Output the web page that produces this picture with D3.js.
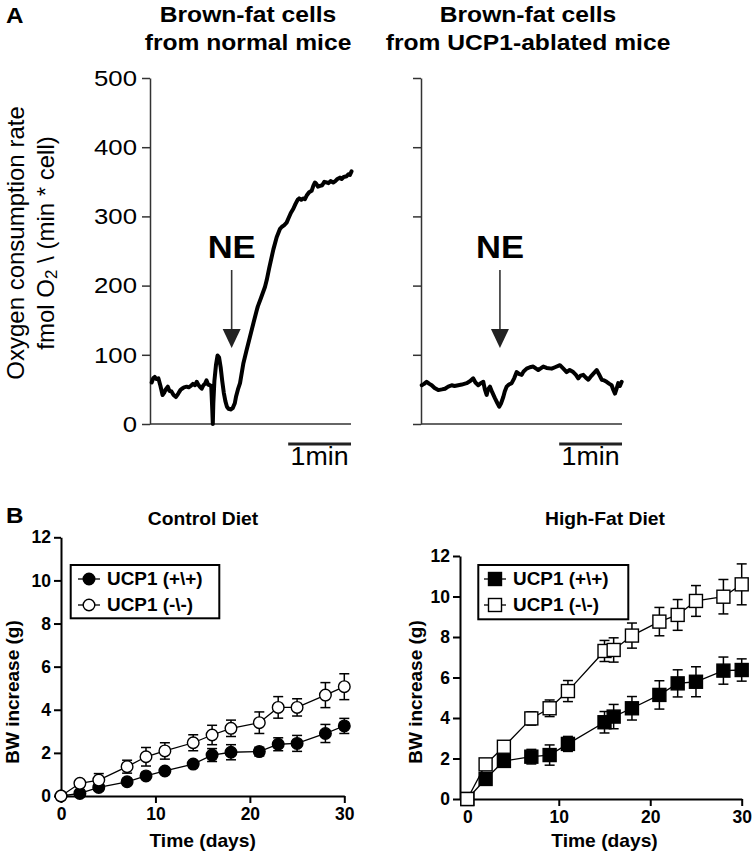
<!DOCTYPE html>
<html><head><meta charset="utf-8">
<script src="https://cdn.jsdelivr.net/npm/d3@7"></script>
<style>
html,body{margin:0;padding:0;background:#fff;}
svg{display:block;font-family:"Liberation Sans",Arial,sans-serif;}
</style></head>
<body>
<svg id="chart" width="756" height="855"></svg>
<script>
// ---------- Panel A data (time in seconds, rate in fmol O2/(min*cell)) ----------
const normalTime = [1.6,3,4.5,6,8,10,12,13.5,15,17,18.5,20.5,22.5,24.8,27,29,30.5,32.5,35,37,39,41,43,44.6,46,47.5,49.4,51,52.5,54,55.5,57.3,58.5,59.5,60,60.5,61.5,63,64.5,66,67.5,69,70.5,72,73.5,75,77,79,81,82.1,84,86,89.1,92,95.5,99,101.9,103,106,109.8,111.5,113.8,117.8,121,124.2,126,128,130.5,132.5,134.5,136.9,139,141,142.5,144.5,146.5,148,150,152,154.4,156,157.6,159,160.5,162.4,164.5,166.5,168.7,170.5,172.5,175,177,179,181.4,183,185,187.8,189.5,191,192.5];
const normalRate = [60,66,68,65,66,55,42,45,50,54,48,47,42,39,44,49,51,53,54,53,55,58,56,61,57,54,51,56,58,63,57,56,55,20,0,30,62,85,99,96,82,62,45,33,25,22,21,23,30,39,50,59,87,105,126,147,164,170,182,198,208,225,252,270,282,285,287,291,298,305,311,318,324,326,324,326,325,331,335,337,344,349,347,343,344,345,350,349,348,351,349,351,354,356,354,357,358,361,360,365];
const ablatedTime = [0.7,3,5.4,8,10.2,13,16.5,20,22.9,26,29.3,32,35.6,39,43.6,47,49.9,52,54.7,57,59.5,61,62.7,64,65.9,68,70.7,73,74.8,76.5,78.6,80,81.8,84,86.6,89,91.4,94,96.2,98,100.9,104,107.2,110,112,114,116.8,120,124.8,128,132.7,136,139.1,142,145.4,148,150.2,152.5,155,157.5,159.8,163,167.8,170,172.6,175,177.3,180,182.1,183.5,185.3,187,188.4,190,191.7];
const ablatedRate = [56,58,61,58,56,52,49,50,51,54,56,55,56,57,59,62,66,60,56,59,61,50,42,50,54,46,37,30,25,30,39,47,54,57,59,66,75,72,71,76,80,82,83,80,78,80,83,81,80,82,85,80,75,78,75,71,66,70,71,67,64,70,78,72,64,63,61,58,56,50,44,52,59,55,61];
const rateTicks = [0,100,200,300,400,500];
const neTimeNormal = 78;
const neTimeAblated = 75.4;

// ---------- Panel B data (days, BW increase in g) ----------
const controlDays = [0,2,4,7,9,11,14,16,18,21,23,25,28,30];
const controlWT    = [0,0.12,0.4,0.66,0.93,1.16,1.48,1.9,2.03,2.06,2.4,2.44,2.9,3.25];
const controlWTErr = [0,0.1,0.15,0.15,0.15,0.15,0.15,0.3,0.35,0.2,0.3,0.37,0.42,0.35];
const controlKO    = [0,0.59,0.74,1.36,1.82,2.09,2.47,2.83,3.14,3.4,4.11,4.11,4.68,5.07];
const controlKOErr = [0,0.15,0.3,0.3,0.43,0.38,0.37,0.45,0.38,0.5,0.5,0.4,0.58,0.6];
const hfDays = [0,2,4,7,9,11,15,16,18,21,23,25,28,30];
const hfWT    = [0,0.99,1.88,2.09,2.17,2.72,3.79,4.07,4.48,5.14,5.71,5.79,6.34,6.37];
const hfWTErr = [0,0.2,0.25,0.36,0.5,0.37,0.53,0.6,0.58,0.7,0.67,0.74,0.67,0.55];
const hfKO    = [0,1.71,2.58,3.98,4.48,5.33,7.31,7.36,8.07,8.76,9.09,9.78,9.99,10.6];
const hfKOErr = [0,0.2,0.25,0.33,0.41,0.52,0.52,0.6,0.62,0.7,0.76,0.76,0.85,1.01];
const bwTicks = [0,2,4,6,8,10,12];
const dayTicks = [0,10,20,30];
const legendLabels = ["UCP1 (+\\+)", "UCP1 (-\\-)"];

const svg = d3.select("#chart");
const FONT = '"Liberation Sans",Arial,sans-serif';

// horizontal widening of glyphs to match the reference's wide lettering
function widen(sel, k){
  sel.each(function(){
    const t = d3.select(this);
    const x = +t.attr("x") || 0, y = +t.attr("y") || 0;
    t.attr("x",0).attr("y",0).attr("transform",`translate(${x},${y}) scale(${k},1)`);
  });
  return sel;
}
function txt(g, x, y, s, size, weight, anchor, k){
  const t = g.append("text").attr("x",x).attr("y",y).text(s)
    .attr("font-size",size).attr("font-weight",weight||"normal")
    .attr("text-anchor",anchor||"middle").attr("fill","#000");
  if(k) widen(t,k);
  return t;
}

// ================= Panel A =================
txt(svg, 6, 23, "A", 22, "bold", "start", 1.1);

function tracePanel(x0, x1, times, rates, showLabels, neTime, titleLines, titleX){
  const x = d3.scaleLinear().domain([0,192]).range([x0,x1]);
  const y = d3.scaleLinear().domain([0,500]).range([424,78]);
  const g = svg.append("g");
  txt(g, titleX, 22, titleLines[0], 22, "bold", "middle", 1.12);
  txt(g, titleX, 50, titleLines[1], 22, "bold", "middle", 1.12);
  const ay = g.append("g").attr("transform",`translate(${x0},0)`)
    .call(d3.axisLeft(y).tickValues(rateTicks).tickSize(8).tickSizeOuter(0).tickPadding(5)
      .tickFormat(showLabels ? d3.format("d") : ""));
  ay.selectAll("path,line").attr("stroke","#333").attr("stroke-width",1.5);
  widen(ay.selectAll("text").attr("font-size",23).attr("font-family",FONT).attr("fill","#000"), 1.12);
  g.append("line").attr("x1",x0).attr("x2",x1).attr("y1",y(0)).attr("y2",y(0))
    .attr("stroke","#333").attr("stroke-width",1.5);
  const line = d3.line().x((d,i)=>x(times[i])).y(d=>y(d)).curve(d3.curveLinear);
  g.append("path").attr("d",line(rates)).attr("fill","none").attr("stroke","#000")
    .attr("stroke-width",4).attr("stroke-linejoin","round").attr("stroke-linecap","round");
  // NE arrow
  const ax = x(neTime);
  txt(g, ax, 258, "NE", 32, "bold", "middle", 1.08);
  g.append("line").attr("x1",ax).attr("x2",ax).attr("y1",270).attr("y2",332)
    .attr("stroke","#333").attr("stroke-width",1.6);
  g.append("path").attr("d",`M${ax-9},329 L${ax+9},329 L${ax},348 Z`).attr("fill","#222");
  // scale bar 1 min
  g.append("line").attr("x1",x(192-60)).attr("x2",x(192)).attr("y1",444).attr("y2",444)
    .attr("stroke","#222").attr("stroke-width",3);
  txt(g, (x(132)+x(192))/2, 465, "1min", 25, "normal", "middle", 1.07);
}
tracePanel(150, 351, normalTime, normalRate, true, neTimeNormal, ["Brown-fat cells","from normal mice"], 248);
tracePanel(421, 622, ablatedTime, ablatedRate, false, neTimeAblated, ["Brown-fat cells","from UCP1-ablated mice"], 528);

// y label panel A
const yl = svg.append("g").attr("transform","translate(24,243) rotate(-90)");
yl.append("text").attr("text-anchor","middle").attr("font-size",24).attr("fill","#000").text("Oxygen consumption rate");
const yl2 = svg.append("g").attr("transform","translate(54,243) rotate(-90)");
const t2 = yl2.append("text").attr("text-anchor","middle").attr("font-size",24).attr("fill","#000");
t2.append("tspan").text("fmol O");
t2.append("tspan").text("2").attr("font-size",17).attr("dy",3);
t2.append("tspan").text(" \\ (min * cell)").attr("dy",-3);

// ================= Panel B =================
txt(svg, 6, 523, "B", 22, "bold", "start", 1.1);

function growthPanel(opt){
  const g = svg.append("g");
  const x = d3.scaleLinear().domain(opt.xDomain).range(opt.xRange);
  const y = d3.scaleLinear().domain([0,12]).range([opt.y0, opt.y12]);
  txt(g, opt.titleX, 525, opt.title, 17.7, "bold", "middle", 1.09);
  const ax = g.append("g").attr("transform",`translate(0,${opt.y0})`)
    .call(d3.axisBottom(x).tickValues(dayTicks).tickSize(7).tickSizeOuter(0).tickPadding(5));
  const ay = g.append("g").attr("transform",`translate(${opt.xRange[0]},0)`)
    .call(d3.axisLeft(y).tickValues(bwTicks).tickSize(7).tickSizeOuter(0).tickPadding(opt.yPad));
  [ax,ay].forEach(a=>{
    a.selectAll("path,line").attr("stroke","#000").attr("stroke-width",2);
    a.selectAll("text").attr("font-size",17.5).attr("font-weight","bold").attr("font-family",FONT).attr("fill","#000");
  });
  txt(g, (x(0)+x(30))/2, 847, "Time (days)", 17.5, "bold", "middle", 1.1);
  g.append("text").attr("transform",`translate(${opt.ylabX},692) rotate(-90)`)
    .attr("text-anchor","middle").attr("font-size",19).attr("font-weight","bold").attr("fill","#000")
    .text("BW increase (g)");

  const series = [
    {v:opt.wt, e:opt.wtErr, fill:"#000"},
    {v:opt.ko, e:opt.koErr, fill:"#fff"}
  ];
  series.forEach(s=>{
    const line = d3.line().x((d,i)=>x(opt.days[i])).y(d=>y(d));
    g.append("path").attr("d",line(s.v)).attr("fill","none").attr("stroke","#000").attr("stroke-width",1.3);
  });
  series.forEach(s=>{
    s.v.forEach((v,i)=>{
      if(!s.e[i]) return;
      const cx = x(opt.days[i]);
      const yt = y(v+s.e[i]), yb = y(v-s.e[i]);
      g.append("line").attr("x1",cx).attr("x2",cx).attr("y1",yt).attr("y2",yb).attr("stroke","#000").attr("stroke-width",1.5);
      [yt,yb].forEach(yy=>g.append("line").attr("x1",cx-5).attr("x2",cx+5).attr("y1",yy).attr("y2",yy).attr("stroke","#000").attr("stroke-width",1.5));
    });
  });
  function marker(cx, cy, fill){
    if(opt.shape==="circle"){
      g.append("circle").attr("cx",cx).attr("cy",cy).attr("r",5.8).attr("fill",fill).attr("stroke","#000").attr("stroke-width",1.4);
    } else {
      g.append("rect").attr("x",cx-6.5).attr("y",cy-6.5).attr("width",13).attr("height",13).attr("fill",fill).attr("stroke","#000").attr("stroke-width",1.4);
    }
  }
  series.forEach(s=>{
    s.v.forEach((v,i)=>marker(x(opt.days[i]), y(v), s.fill));
  });
  // legend
  const L = opt.legend;
  g.append("rect").attr("x",L.x).attr("y",565).attr("width",L.w).attr("height",L.h)
    .attr("fill","#fff").attr("stroke","#000").attr("stroke-width",2);
  [579,605].forEach((ry,i)=>{
    g.append("line").attr("x1",L.mx-11).attr("x2",L.mx+11).attr("y1",ry).attr("y2",ry).attr("stroke","#000").attr("stroke-width",1.3);
    marker(L.mx, ry, series[i].fill);
    txt(g, L.tx, ry+6.3, legendLabels[i], 17.5, "bold", "start", 1.08);
  });
}

growthPanel({title:"Control Diet", titleX:203, xDomain:[0,30], xRange:[61,344.3], y0:796, y12:537.3,
  yPad:3, ylabX:19, days:controlDays, wt:controlWT, wtErr:controlWTErr, ko:controlKO, koErr:controlKOErr,
  shape:"circle", legend:{x:70.7,w:148.6,h:53.3,mx:89,tx:107}});
growthPanel({title:"High-Fat Diet", titleX:605, xDomain:[-0.8,30], xRange:[460,741.7], y0:799, y12:556,
  yPad:3, ylabX:422, days:hfDays, wt:hfWT, wtErr:hfWTErr, ko:hfKO, koErr:hfKOErr,
  shape:"square", legend:{x:478.3,w:150,h:54.3,mx:495,tx:513}});
</script>
</body></html>
